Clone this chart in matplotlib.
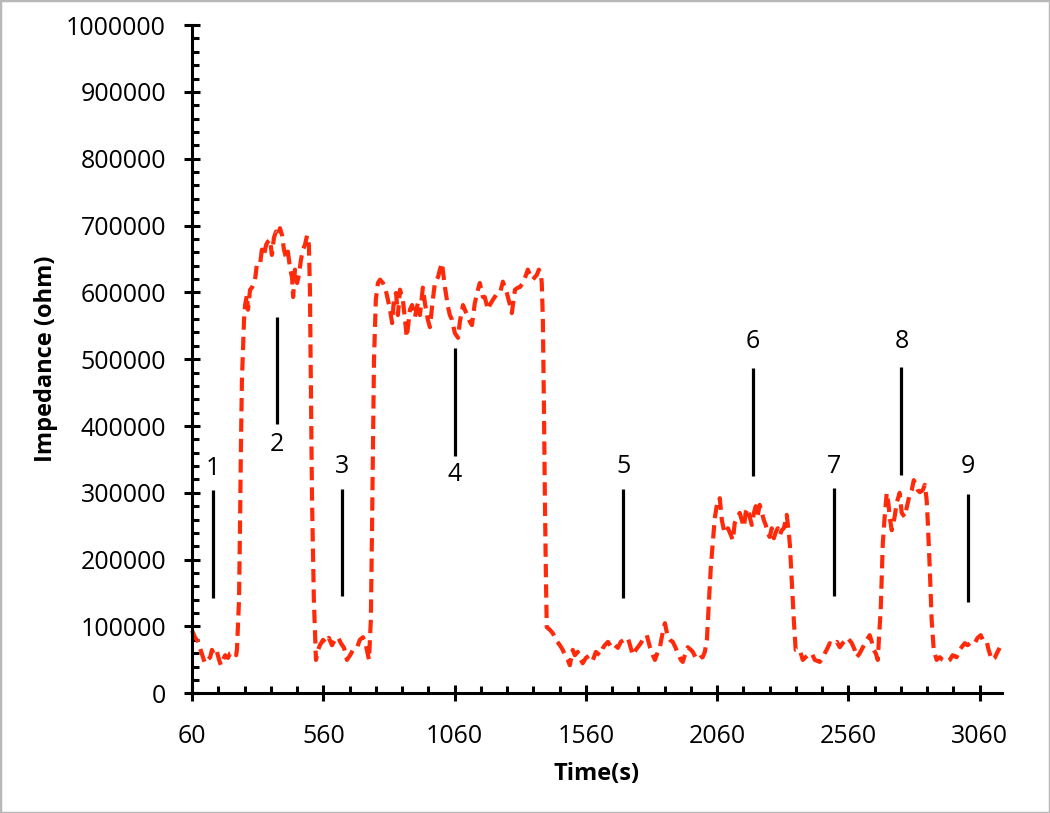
import numpy as np
import matplotlib
matplotlib.use("Agg")
import matplotlib.pyplot as plt
from matplotlib.patches import Rectangle
from matplotlib.ticker import FixedLocator, FuncFormatter

plt.rcParams["font.family"] = ["Open Sans", "DejaVu Sans"]

# impedance trace (seconds, ohm)
time_s = [
    60, 71, 83, 95, 109, 129, 136, 144, 155, 163, 170, 178, 186, 197, 205, 220, 228, 231,
    239, 243, 246, 250, 258, 262,
    269, 273, 281, 288, 300, 307, 319, 326, 334, 342, 349, 357, 364, 372, 380, 387, 395,
    403, 410, 418, 425, 433, 441, 445, 452, 460, 467, 475, 482, 490, 498, 505,
    509, 513, 517, 524, 532,
    540, 547, 559, 570, 581, 593, 604, 616, 627, 639, 650, 662, 673, 688, 699, 711, 722, 734,
    741, 745, 749, 753, 760, 768,
    776, 787, 795, 806, 814, 822, 829, 837, 844, 852, 863, 871, 878, 890, 898, 909, 920,
    928, 939, 947, 958, 966, 977, 985, 997, 1004, 1012, 1023, 1035, 1042, 1050, 1061,
    1073, 1080, 1092, 1099, 1111, 1118, 1126, 1137, 1149, 1156, 1168, 1175, 1187, 1194,
    1206, 1218, 1233, 1244, 1259, 1271, 1278, 1290, 1301, 1309, 1320, 1332, 1339, 1351,
    1358, 1366, 1373, 1381, 1389, 1392,
    1396, 1400, 1404, 1408, 1411,
    1423, 1434, 1446, 1461, 1472, 1480, 1491, 1499, 1510, 1518, 1529, 1537, 1548, 1560,
    1575, 1587, 1598, 1613, 1625, 1632, 1644, 1659, 1670, 1682, 1693, 1705, 1720, 1731,
    1739, 1750, 1758, 1769, 1777, 1785, 1792, 1804, 1815, 1823, 1834, 1842, 1853, 1861,
    1872, 1880, 1891, 1902, 1910, 1922, 1929, 1941, 1948, 1960, 1967, 1979, 1986, 1998,
    2005, 2013,
    2021, 2029, 2036, 2044, 2051, 2059, 2066,
    2070, 2078, 2086, 2093, 2101, 2108, 2120, 2127, 2135, 2146, 2154, 2162, 2169, 2177,
    2184, 2192, 2200, 2207, 2215, 2222, 2230, 2238, 2245, 2253, 2260, 2268, 2276, 2283,
    2291, 2299, 2306, 2314, 2321, 2325, 2333,
    2337, 2344, 2352, 2359,
    2375, 2386, 2405, 2420, 2432, 2451, 2462, 2477, 2489, 2500, 2516, 2527, 2538, 2557,
    2573, 2584, 2592, 2603, 2615, 2630, 2641, 2649, 2656, 2664, 2672,
    2676, 2683, 2687, 2691, 2698, 2706,
    2713, 2717, 2725, 2736, 2744, 2755, 2763, 2774, 2786, 2793, 2801, 2809, 2817, 2824,
    2832, 2843, 2851, 2858,
    2862, 2870, 2877, 2885, 2893,
    2896, 2908, 2919, 2934, 2946, 2957, 2972, 2984, 2991, 3003, 3014, 3029, 3041, 3052,
    3064, 3075, 3087, 3094, 3106, 3117, 3128, 3136,
]
impedance_ohm = [
    94000, 84000, 77000, 62000, 45000, 54000, 65000, 57000, 62000, 50000, 42000, 50000,
    57000, 53000, 60000, 62000, 57000, 65000,
    140000, 259000, 364000, 469000, 559000, 581000,
    596000, 574000, 604000, 607000, 619000, 642000, 642000, 664000, 656000, 671000,
    676000, 679000, 656000, 682000, 691000, 685000, 696000, 685000, 664000, 652000,
    661000, 637000, 622000, 593000, 634000, 614000, 626000, 649000, 664000, 671000,
    685000, 671000,
    604000, 439000, 289000, 140000, 50000,
    65000, 72000, 80000, 75000, 83000, 72000, 80000, 84000, 75000, 68000, 50000, 57000,
    65000, 68000, 80000, 84000, 72000, 50000,
    110000, 229000, 364000, 499000, 589000, 614000,
    619000, 614000, 608000, 589000, 574000, 554000, 589000, 599000, 566000, 604000,
    589000, 559000, 533000, 574000, 581000, 563000, 584000, 566000, 607000, 584000,
    559000, 548000, 589000, 614000, 623000, 634000, 644000, 608000, 578000, 566000,
    559000, 539000, 532000, 556000, 581000, 574000, 563000, 556000, 551000, 584000,
    604000, 614000, 593000, 593000, 574000, 581000, 589000, 596000, 599000, 616000,
    599000, 581000, 569000, 604000, 607000, 608000, 614000, 626000, 634000, 622000,
    619000, 623000, 626000, 634000, 626000, 614000,
    563000, 439000, 289000, 170000, 99000,
    95000, 90000, 80000, 72000, 65000, 57000, 50000, 42000, 65000, 57000, 62000, 53000,
    45000, 53000, 57000, 50000, 62000, 57000, 68000, 72000, 77000, 68000, 72000, 68000,
    77000, 80000, 83000, 68000, 57000, 65000, 69000, 75000, 80000, 84000, 87000, 69000,
    57000, 50000, 62000, 69000, 92000, 105000, 84000, 80000, 77000, 68000, 60000, 50000,
    47000, 62000, 69000, 65000, 62000, 53000, 50000, 54000, 54000, 62000,
    80000, 140000, 189000, 229000, 262000, 282000, 282000,
    292000, 259000, 244000, 240000, 247000, 241000, 229000, 255000, 262000, 270000,
    259000, 249000, 271000, 277000, 264000, 252000, 270000, 280000, 267000, 282000,
    271000, 259000, 252000, 240000, 234000, 247000, 232000, 241000, 247000, 237000,
    244000, 247000, 259000, 267000, 240000,
    222000, 170000, 110000, 65000,
    65000, 50000, 57000, 60000, 50000, 47000, 54000, 65000, 75000, 72000, 77000, 69000,
    75000, 83000, 75000, 65000, 54000, 60000, 69000, 80000, 87000, 77000, 65000, 60000,
    50000,
    80000, 125000, 174000, 225000, 264000, 300000,
    282000, 264000, 244000, 264000, 285000, 300000, 270000, 264000, 285000, 297000,
    304000, 319000, 312000, 304000, 301000, 304000, 312000, 289000,
    259000, 185000, 110000, 65000, 54000,
    50000, 54000, 50000, 47000, 50000, 57000, 54000, 65000, 69000, 75000, 72000, 77000,
    75000, 83000, 87000, 77000, 77000, 65000, 50000, 53000, 62000, 68000,
]

# numbered marker bars (x in s, bar ends and label centre in ohm)
marker_labels = ["1", "2", "3", "4", "5", "6", "7", "8", "9"]
marker_x = [141, 382, 632, 1060, 1702, 2195, 2505, 2762, 3015]
marker_top = [304000, 563000, 306000, 517000, 305000, 487000, 307000, 489000, 299000]
marker_bottom = [143000, 403000, 145000, 355000, 143000, 325000, 145000, 327000, 137000]
marker_label_y = [337000, 372000, 339000, 327000, 339000, 527000, 339000, 526000, 339000]

fig = plt.figure(figsize=(10.5, 8.13), dpi=100)
ax = fig.add_axes([0.1829, 0.1472, 0.7714, 0.8220])

ax.plot(time_s, impedance_ohm, color="#ff2a0a", linewidth=3.0,
        linestyle=(0, (3.2, 1.7)), clip_on=False)

for x, top, bot, lab, ly in zip(marker_x, marker_top, marker_bottom,
                                marker_labels, marker_label_y):
    ax.vlines(x, bot, top, color="black", linewidth=2.3)
    ax.text(x, ly, lab, ha="center", va="center", fontsize=18, color="black")

ax.set_xlim(60, 3145)
ax.set_ylim(0, 1000000)

ax.xaxis.set_major_locator(FixedLocator(np.arange(60, 3061, 500)))
ax.xaxis.set_minor_locator(FixedLocator(np.arange(60, 3145, 100)))
ax.yaxis.set_major_locator(FixedLocator(np.arange(0, 1000001, 100000)))
ax.yaxis.set_minor_locator(FixedLocator(np.arange(0, 1000001, 20000)))
ax.yaxis.set_major_formatter(FuncFormatter(lambda v, p: f"{int(round(v))}"))

for side in ["top", "right"]:
    ax.spines[side].set_visible(False)
for side in ["left", "bottom"]:
    ax.spines[side].set_linewidth(2.2)

ax.tick_params(which="major", direction="inout", length=11.5, width=2.2,
               labelsize=18)
ax.tick_params(which="minor", direction="in", length=5, width=2.2)
ax.tick_params(axis="y", which="major", pad=13)
ax.tick_params(axis="x", which="major", pad=16)

ax.set_xlabel("Time(s)", fontsize=17, fontweight="bold")
ax.set_ylabel("Impedance (ohm)", fontsize=17, fontweight="bold")
ax.xaxis.set_label_coords(0.5, -0.103)
ax.yaxis.set_label_coords(-0.166, 0.5)

# thin grey frame around the whole picture
fig.patches.append(Rectangle((0, 0), 1, 1, transform=fig.transFigure,
                             fill=False, edgecolor="#b8b8b8", linewidth=2.5))

fig.savefig("out.png", dpi=100, facecolor="white")
